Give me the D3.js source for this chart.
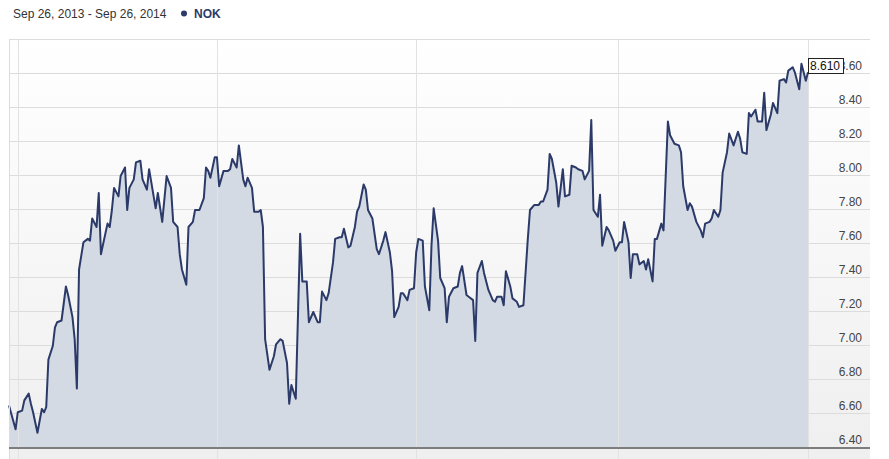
<!DOCTYPE html>
<html>
<head>
<meta charset="utf-8">
<script src="https://cdn.jsdelivr.net/npm/d3@7"></script>
<style>
  body { margin: 0; background: #fff; font-family: "Liberation Sans", Arial, sans-serif; }
  svg { display: block; }
</style>
</head>
<body>
<div id="container"></div>
<script>
const width = 889;
const height = 459;

// Close prices
const dates = [
  "2013-09-26","2013-09-29","2013-09-30","2013-10-02","2013-10-03","2013-10-05","2013-10-06","2013-10-07",
  "2013-10-09","2013-10-11","2013-10-12","2013-10-13","2013-10-14","2013-10-16","2013-10-17","2013-10-18",
  "2013-10-20","2013-10-22","2013-10-23","2013-10-25","2013-10-26","2013-10-27","2013-10-28","2013-10-30",
  "2013-11-01","2013-11-02","2013-11-03","2013-11-05","2013-11-06","2013-11-07","2013-11-10","2013-11-11",
  "2013-11-12","2013-11-13","2013-11-15","2013-11-16","2013-11-18","2013-11-19","2013-11-20","2013-11-22",
  "2013-11-23","2013-11-25","2013-11-26","2013-11-28","2013-11-29","2013-12-02","2013-12-03","2013-12-05",
  "2013-12-07","2013-12-09","2013-12-10","2013-12-12","2013-12-13","2013-12-14","2013-12-16","2013-12-17",
  "2013-12-19","2013-12-20","2013-12-22","2013-12-24","2013-12-25","2013-12-26","2013-12-27","2013-12-29",
  "2013-12-30","2013-12-31","2014-01-02","2014-01-04","2014-01-05","2014-01-06","2014-01-08","2014-01-09",
  "2014-01-11","2014-01-12","2014-01-13","2014-01-15","2014-01-16","2014-01-18","2014-01-19","2014-01-20",
  "2014-01-21","2014-01-23","2014-01-25","2014-01-26","2014-01-28","2014-01-29","2014-01-31","2014-02-01",
  "2014-02-02","2014-02-04","2014-02-06","2014-02-07","2014-02-09","2014-02-10","2014-02-12","2014-02-14",
  "2014-02-15","2014-02-16","2014-02-18","2014-02-19","2014-02-21","2014-02-22","2014-02-24","2014-02-25",
  "2014-02-26","2014-02-28","2014-03-01","2014-03-03","2014-03-04","2014-03-05","2014-03-07","2014-03-08",
  "2014-03-09","2014-03-11","2014-03-13","2014-03-14","2014-03-16","2014-03-17","2014-03-19","2014-03-20",
  "2014-03-21","2014-03-23","2014-03-24","2014-03-25","2014-03-27","2014-03-28","2014-03-30","2014-03-31",
  "2014-04-01","2014-04-03","2014-04-04","2014-04-06","2014-04-07","2014-04-08","2014-04-10","2014-04-11",
  "2014-04-13","2014-04-14","2014-04-15","2014-04-17","2014-04-19","2014-04-20","2014-04-21","2014-04-23",
  "2014-04-24","2014-04-26","2014-04-27","2014-04-28","2014-04-30","2014-05-01","2014-05-03","2014-05-05",
  "2014-05-06","2014-05-07","2014-05-09","2014-05-10","2014-05-11","2014-05-13","2014-05-14","2014-05-16",
  "2014-05-17","2014-05-19","2014-05-21","2014-05-22","2014-05-24","2014-05-26","2014-05-27","2014-05-28",
  "2014-05-30","2014-05-31","2014-06-01","2014-06-03","2014-06-04","2014-06-06","2014-06-07","2014-06-09",
  "2014-06-10","2014-06-12","2014-06-13","2014-06-15","2014-06-16","2014-06-18","2014-06-19","2014-06-20",
  "2014-06-22","2014-06-23","2014-06-24","2014-06-26","2014-06-27","2014-06-29","2014-06-30","2014-07-02",
  "2014-07-03","2014-07-04","2014-07-06","2014-07-07","2014-07-08","2014-07-10","2014-07-11","2014-07-13",
  "2014-07-14","2014-07-15","2014-07-17","2014-07-18","2014-07-19","2014-07-21","2014-07-22","2014-07-24",
  "2014-07-25","2014-07-27","2014-07-29","2014-07-30","2014-07-31","2014-08-02","2014-08-03","2014-08-04",
  "2014-08-06","2014-08-08","2014-08-09","2014-08-10","2014-08-12","2014-08-13","2014-08-14","2014-08-16",
  "2014-08-17","2014-08-18","2014-08-20","2014-08-21","2014-08-23","2014-08-25","2014-08-26","2014-08-27",
  "2014-08-29","2014-08-30","2014-08-31","2014-09-02","2014-09-03","2014-09-05","2014-09-06","2014-09-07",
  "2014-09-09","2014-09-10","2014-09-12","2014-09-13","2014-09-15","2014-09-16","2014-09-17","2014-09-19",
  "2014-09-20","2014-09-22","2014-09-23","2014-09-25","2014-09-26"
];

const closes = [
  6.65, 6.51, 6.61, 6.62, 6.68, 6.72, 6.66, 6.61,
  6.49, 6.63, 6.61, 6.64, 6.92, 7.00, 7.11, 7.14,
  7.15, 7.35, 7.30, 7.17, 7.04, 6.75, 7.45, 7.61,
  7.63, 7.62, 7.75, 7.70, 7.90, 7.54, 7.72, 7.70,
  7.80, 7.93, 7.88, 8.00, 8.05, 7.80, 7.93, 7.98,
  8.08, 8.09, 7.98, 7.92, 8.04, 7.81, 7.90, 7.73,
  8.00, 7.93, 7.73, 7.70, 7.54, 7.45, 7.36, 7.70,
  7.73, 7.80, 7.80, 7.87, 8.05, 8.03, 7.99, 8.11,
  8.11, 7.94, 8.03, 8.03, 8.04, 8.10, 8.05, 8.18,
  7.98, 7.94, 7.99, 7.93, 7.79, 7.79, 7.80, 7.70,
  7.04, 6.86, 6.94, 7.01, 7.04, 7.03, 6.90, 6.66,
  6.77, 6.69, 7.66, 7.38, 7.38, 7.14, 7.20, 7.14,
  7.14, 7.32, 7.27, 7.31, 7.49, 7.63, 7.64, 7.64,
  7.69, 7.58, 7.59, 7.70, 7.79, 7.82, 7.95, 7.92,
  7.80, 7.75, 7.57, 7.54, 7.62, 7.67, 7.55, 7.44,
  7.17, 7.23, 7.31, 7.31, 7.27, 7.33, 7.34, 7.55,
  7.63, 7.62, 7.35, 7.21, 7.59, 7.81, 7.62, 7.40,
  7.34, 7.14, 7.29, 7.34, 7.35, 7.43, 7.47, 7.30,
  7.29, 7.27, 7.03, 7.43, 7.50, 7.43, 7.33, 7.27,
  7.26, 7.29, 7.29, 7.24, 7.44, 7.35, 7.28, 7.26,
  7.23, 7.24, 7.63, 7.80, 7.83, 7.83, 7.85, 7.85,
  7.92, 8.13, 8.10, 7.96, 7.82, 8.04, 7.88, 7.89,
  8.06, 8.05, 8.04, 8.03, 7.98, 8.03, 8.33, 7.80,
  7.76, 7.89, 7.59, 7.70, 7.68, 7.62, 7.56, 7.61,
  7.61, 7.73, 7.61, 7.40, 7.54, 7.54, 7.48, 7.50,
  7.45, 7.51, 7.38, 7.63, 7.63, 7.72, 7.68, 8.32,
  8.24, 8.19, 8.18, 8.14, 7.94, 7.80, 7.84, 7.82,
  7.73, 7.68, 7.64, 7.72, 7.73, 7.75, 7.80, 7.76,
  7.80, 8.02, 8.14, 8.25, 8.18, 8.26, 8.22, 8.14,
  8.13, 8.37, 8.35, 8.39, 8.32, 8.32, 8.49, 8.27,
  8.36, 8.43, 8.37, 8.56, 8.57, 8.55, 8.62, 8.64,
  8.61, 8.51, 8.66, 8.56, 8.61
];

const yTicks = [6.4, 6.6, 6.8, 7.0, 7.2, 7.4, 7.6, 7.8, 8.0, 8.2, 8.4, 8.6, 8.8];
const xGridDates = ["2013-09-30", "2013-12-30", "2014-03-31", "2014-07-01", "2014-09-26"];
const rangeLabel = "Sep 26, 2013 - Sep 26, 2014";
const seriesName = "NOK";

const parse = d3.timeParse("%Y-%m-%d");
const data = dates.map((d, i) => ({ date: parse(d), close: closes[i] }));

const plot = { left: 9, right: 870, top: 40, bottom: 448 };
const navy = "#2b3a68";

const svg = d3
  .select("#container")
  .append("svg")
  .attr("width", width)
  .attr("height", height);

const x = d3
  .scaleTime()
  .domain([parse("2013-09-26"), parse("2014-09-26")])
  .range([plot.left, 808]);

const y = d3.scaleLinear().domain([6.4, 8.8]).range([plot.bottom, plot.top]);

// background gradient
const grad = svg
  .append("defs")
  .append("linearGradient")
  .attr("id", "bg")
  .attr("x1", 0)
  .attr("y1", 0)
  .attr("x2", 0)
  .attr("y2", 1);
grad.append("stop").attr("offset", "0%").attr("stop-color", "#ffffff");
grad.append("stop").attr("offset", "100%").attr("stop-color", "#efefef");

svg
  .append("rect")
  .attr("x", plot.left)
  .attr("y", plot.top - 1)
  .attr("width", plot.right - plot.left)
  .attr("height", height - plot.top + 1)
  .attr("fill", "url(#bg)");

// horizontal grid
svg
  .append("g")
  .selectAll("line")
  .data(yTicks)
  .enter()
  .append("line")
  .attr("x1", plot.left)
  .attr("x2", plot.right)
  .attr("y1", (d) => Math.round(y(d)) - 0.5)
  .attr("y2", (d) => Math.round(y(d)) - 0.5)
  .attr("stroke", "#dcdcdc");

// area + line
const area = d3
  .area()
  .x((d) => x(d.date))
  .y0(plot.bottom)
  .y1((d) => y(d.close));

const line = d3
  .line()
  .x((d) => x(d.date))
  .y((d) => y(d.close));

svg
  .append("path")
  .datum(data)
  .attr("d", area)
  .attr("fill", "#d3dae4");

// vertical grid
svg
  .append("g")
  .selectAll("line")
  .data(xGridDates)
  .enter()
  .append("line")
  .attr("x1", (d) => Math.round(x(parse(d))) + 0.5)
  .attr("x2", (d) => Math.round(x(parse(d))) + 0.5)
  .attr("y1", plot.top - 1)
  .attr("y2", height)
  .attr("stroke", "#e2e2e2");

svg
  .append("path")
  .datum(data)
  .attr("d", line)
  .attr("fill", "none")
  .attr("stroke", navy)
  .attr("stroke-width", 2)
  .attr("stroke-linejoin", "round");

// frame
svg
  .append("line")
  .attr("x1", plot.left)
  .attr("x2", plot.right)
  .attr("y1", plot.top - 0.5)
  .attr("y2", plot.top - 0.5)
  .attr("stroke", "#dcdcdc");
svg
  .append("line")
  .attr("x1", plot.left + 0.5)
  .attr("x2", plot.left + 0.5)
  .attr("y1", plot.top - 1)
  .attr("y2", height)
  .attr("stroke", "#dcdcdc");

// bottom axis line
svg
  .append("line")
  .attr("x1", plot.left)
  .attr("x2", plot.right)
  .attr("y1", plot.bottom)
  .attr("y2", plot.bottom)
  .attr("stroke", "#7d7d7d")
  .attr("stroke-width", 2);

// y labels (right, above grid line)
svg
  .append("g")
  .selectAll("text")
  .data(yTicks.slice(0, -1))
  .enter()
  .append("text")
  .attr("x", 862)
  .attr("y", (d) => y(d) - 4)
  .attr("text-anchor", "end")
  .attr("font-size", 12)
  .attr("fill", "#444")
  .text((d) => d.toFixed(2));

// last value marker
const last = data[data.length - 1];
const lx = x(last.date);
const ly = y(last.close);
svg
  .append("rect")
  .attr("x", lx + 0.5)
  .attr("y", Math.round(ly) - 13.5)
  .attr("width", 35)
  .attr("height", 15)
  .attr("fill", "#fff")
  .attr("stroke", "#222");
svg
  .append("text")
  .attr("x", lx + 2)
  .attr("y", Math.round(ly) - 2)
  .attr("font-size", 12)
  .attr("fill", "#111")
  .text(last.close.toFixed(3));

// header
svg
  .append("text")
  .attr("x", 13)
  .attr("y", 18)
  .attr("font-size", 12)
  .attr("fill", "#333")
  .text(rangeLabel);
svg.append("circle").attr("cx", 184).attr("cy", 13.5).attr("r", 3).attr("fill", navy);
svg
  .append("text")
  .attr("x", 194)
  .attr("y", 18)
  .attr("font-size", 12)
  .attr("font-weight", "bold")
  .attr("fill", navy)
  .text(seriesName);
</script>
</body>
</html>
